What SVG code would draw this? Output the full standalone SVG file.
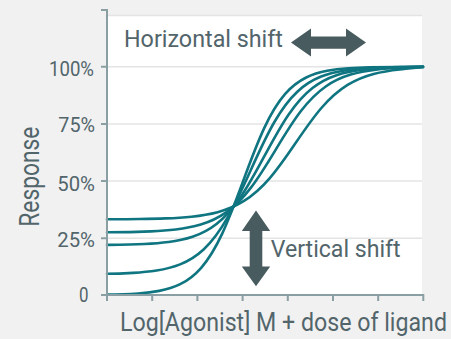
<svg xmlns="http://www.w3.org/2000/svg" width="451" height="339" viewBox="0 0 451 339">
<style>
.t{font-family:Roboto,"Liberation Sans",sans-serif;fill:#52656b}
.grid{stroke:#e4e4e4;stroke-width:1.6}
.axis{stroke:#8a9fa3;stroke-width:2;fill:none}
.curve{fill:none;stroke:#0f7581;stroke-width:2.6;stroke-linecap:round;stroke-linejoin:round}
.arrow{fill:#485b5f}
</style>
<rect width="451" height="339" fill="#f1f1f1"/>
<rect id="plot" x="107" y="15" width="315" height="280" fill="#ffffff"/>
<g id="grid">
<line class="grid" x1="107" y1="15.5" x2="422" y2="15.5"/>
<line class="grid" x1="107" y1="66.7" x2="422" y2="66.7"/>
<line class="grid" x1="107" y1="124" x2="422" y2="124"/>
<line class="grid" x1="107" y1="181" x2="422" y2="181"/>
<line class="grid" x1="107" y1="238.3" x2="422" y2="238.3"/>
</g>
<g id="curves">
<path class="curve" d="M107,294.65 C117.4,294.55 131.2,293.98 138.2,293.47 C145.2,292.96 152.2,292.23 159.2,290.89 C166.2,289.55 173.2,287.61 180.2,284.17 C187.2,280.73 194.2,275.78 201.2,267.79 C208.2,259.8 215.2,248.57 222.2,233.61 C229.2,218.65 236.2,199.88 243.2,180.85 C250.2,161.82 257.2,143.05 264.2,128.09 C271.2,113.13 278.2,101.9 285.2,93.91 C292.2,85.92 299.2,80.96 306.2,77.52 C313.2,74.08 320.2,72.15 327.2,70.81 C334.2,69.47 341.2,68.74 348.2,68.23 C355.2,67.72 362.2,67.45 369.2,67.26 C387,67.1 405,66.8 423,66.7"/>
<path class="curve" d="M107,273.75 C115.7,273.7 125.3,273.29 133.1,272.83 C140.93,272.37 148.77,271.71 156.6,270.49 C164.43,269.27 172.27,267.51 180.1,264.38 C187.93,261.25 195.77,256.74 203.6,249.48 C211.43,242.22 219.27,232.02 227.1,218.42 C234.93,204.82 242.77,187.75 250.6,170.45 C258.43,153.15 266.27,136.09 274.1,122.49 C281.93,108.89 289.77,98.69 297.6,91.43 C305.43,84.17 313.27,79.66 321.1,76.53 C328.93,73.4 336.77,71.64 344.6,70.42 C352.43,69.2 360.27,68.54 368.1,68.08 C375.93,67.62 383.77,67.37 391.6,67.2 C402,67.05 412,66.85 423,66.7"/>
<path class="curve" d="M107,244.94 C119.5,244.79 132,244.66 144.5,244.04 C152.5,243.64 160.5,243.07 168.5,242.02 C176.5,240.97 184.5,239.45 192.5,236.76 C200.5,234.07 208.5,230.2 216.5,223.95 C224.5,217.7 232.5,208.92 240.5,197.22 C248.5,185.52 256.5,170.84 264.5,155.96 C272.5,141.08 280.5,126.41 288.5,114.71 C296.5,103.01 304.5,94.23 312.5,87.98 C320.5,81.73 328.5,77.85 336.5,75.16 C344.5,72.47 352.5,70.96 360.5,69.91 C368.5,68.86 376.5,68.29 384.5,67.89 C397,67.5 410,67.05 423,66.8"/>
<path class="curve" d="M107,232.26 C121.6,232.24 136.17,231.98 150.75,231.34 C159.08,230.97 167.42,230.45 175.75,229.47 C184.08,228.49 192.42,227.09 200.75,224.59 C209.08,222.09 217.42,218.49 225.75,212.69 C234.08,206.89 242.42,198.74 250.75,187.88 C259.08,177.02 267.42,163.38 275.75,149.57 C284.08,135.76 292.42,122.13 300.75,111.27 C309.08,100.41 317.42,92.26 325.75,86.46 C334.08,80.66 342.42,77.06 350.75,74.56 C359.08,72.06 367.42,70.66 375.75,69.68 C384.08,68.7 392.42,68.18 400.75,67.81 C408.2,67.44 415.6,67.1 423,66.9"/>
<path class="curve" d="M107,219.32 L113.6,219.29 C122.27,219.24 130.93,219.18 139.6,219.05 C148.27,218.92 156.93,218.75 165.6,218.41 C174.27,218.07 182.93,217.58 191.6,216.68 C200.27,215.78 208.93,214.49 217.6,212.19 C226.27,209.89 234.93,206.57 243.6,201.22 C252.27,195.88 260.93,188.37 269.6,178.36 C278.27,168.35 286.93,155.79 295.6,143.06 C304.27,130.33 312.93,117.78 321.6,107.77 C330.27,97.76 338.93,90.26 347.6,84.91 C356.27,79.57 364.93,76.24 373.6,73.94 C382.27,71.64 390.93,70.35 399.6,69.45 C407.4,68.64 415.2,67.6 423,67.2"/>
</g>
<g id="axes">
<path class="axis" d="M101,10 H107 V295 H423.3"/>
<path class="axis" d="M101,66.7 H107 M101,124 H107 M101,181 H107 M101,238.3 H107 M101,295 H107"/>
<path class="axis" d="M107,295 V301 M152.2,295 V301 M197.4,295 V301 M242.6,295 V301 M287.8,295 V301 M333,295 V301 M378.2,295 V301 M423.3,294 V301"/>
</g>
<g id="ylabels">
<text class="t" x="94" y="76.4" font-size="21" text-anchor="end" textLength="45" lengthAdjust="spacingAndGlyphs">100%</text>
<text class="t" x="95" y="131.5" font-size="21" text-anchor="end" textLength="36.7" lengthAdjust="spacingAndGlyphs">75%</text>
<text class="t" x="95" y="190.5" font-size="21" text-anchor="end" textLength="37.7" lengthAdjust="spacingAndGlyphs">50%</text>
<text class="t" x="95" y="247.4" font-size="21" text-anchor="end" textLength="37.7" lengthAdjust="spacingAndGlyphs">25%</text>
<text class="t" x="79" y="301.6" font-size="21" textLength="9.5" lengthAdjust="spacingAndGlyphs">0</text>
</g>
<g id="yaxis-title">
<text class="t" transform="translate(38.5,226.7) rotate(-90)" font-size="27" textLength="100" lengthAdjust="spacingAndGlyphs">Response</text>
</g>
<g id="xaxis-title">
<text class="t" x="120" y="331" font-size="25" textLength="327" lengthAdjust="spacingAndGlyphs">Log[Agonist] M + dose of ligand</text>
</g>
<g id="horizontal-shift">
<text class="t" x="124" y="46.7" font-size="24.5" textLength="159" lengthAdjust="spacingAndGlyphs">Horizontal shift</text>
<polygon class="arrow" points="291,42.6 311,28.4 311,36.6 346,36.6 346,28.4 366,42.6 346,56.4 346,48.8 311,48.8 311,56.4"/>
</g>
<g id="vertical-shift">
<polygon class="arrow" points="256,210.5 270.2,231 262.3,231 262.3,266.5 270.2,266.5 256,286.3 241.8,266.5 249.7,266.5 249.7,231 241.8,231"/>
<text class="t" x="270.7" y="256.7" font-size="24.5" textLength="130" lengthAdjust="spacingAndGlyphs">Vertical shift</text>
</g>
</svg>
